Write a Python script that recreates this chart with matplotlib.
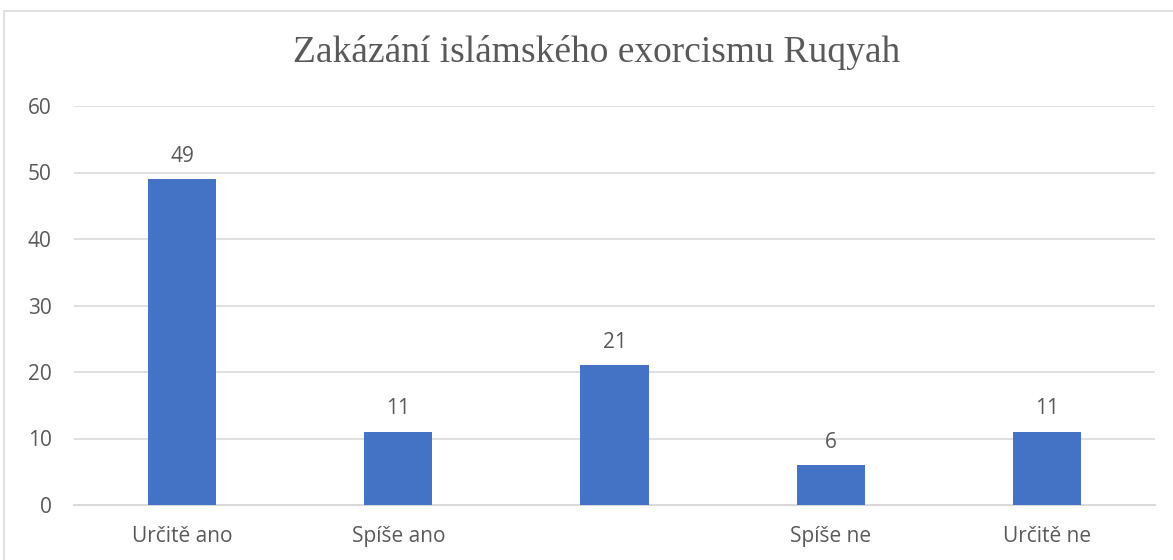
import matplotlib.pyplot as plt
from matplotlib.patches import Rectangle

categories = ["Určitě ano", "Spíše ano", "", "Spíše ne", "Určitě ne"]
values = [49, 11, 21, 6, 11]
yticks = [0, 10, 20, 30, 40, 50, 60]
title = "Zakázání islámského exorcismu Ruqyah"

text_color = "#595959"
bar_color = "#4472C4"
grid_color = "#D9D9D9"

fig = plt.figure(figsize=(11.73, 5.6), dpi=100)
ax = fig.add_axes([74 / 1173, 55 / 560, 1081 / 1173, 399 / 560])

x = list(range(len(categories)))
bars = ax.bar(x, values, width=0.315, color=bar_color, zorder=3)

for xi, v in zip(x, values):
    ax.annotate(str(v), (xi, v), xytext=(0, 9), textcoords="offset points",
                ha="center", va="bottom", fontsize=15, color=text_color,
                family="Open Sans")

ax.set_xlim(-0.5, len(categories) - 0.5)
ax.set_ylim(0, 60)
ax.set_yticks(yticks)
ax.set_xticks(x)
ax.set_xticklabels(categories)
ax.yaxis.grid(True, color=grid_color, linewidth=1.2, zorder=0)
ax.tick_params(axis="both", length=0, labelsize=15, labelcolor=text_color)
ax.tick_params(axis="y", pad=16)
ax.tick_params(axis="x", pad=15)
for lab in ax.get_xticklabels() + ax.get_yticklabels():
    lab.set_family("Open Sans")
for side in ["top", "right", "left"]:
    ax.spines[side].set_visible(False)
ax.spines["bottom"].set_color(grid_color)
ax.spines["bottom"].set_linewidth(1.5)

fig.text(597 / 1173, 1 - 52 / 560, title, ha="center", va="center",
         fontsize=27, color=text_color, family="Liberation Serif")

fig.patches.append(Rectangle((4 / 1173, -0.1), 1.2, 1 - 11 / 560 + 0.1,
                             transform=fig.transFigure, fill=False,
                             edgecolor=grid_color, linewidth=1.2))

fig.savefig("out.png", dpi=100)
